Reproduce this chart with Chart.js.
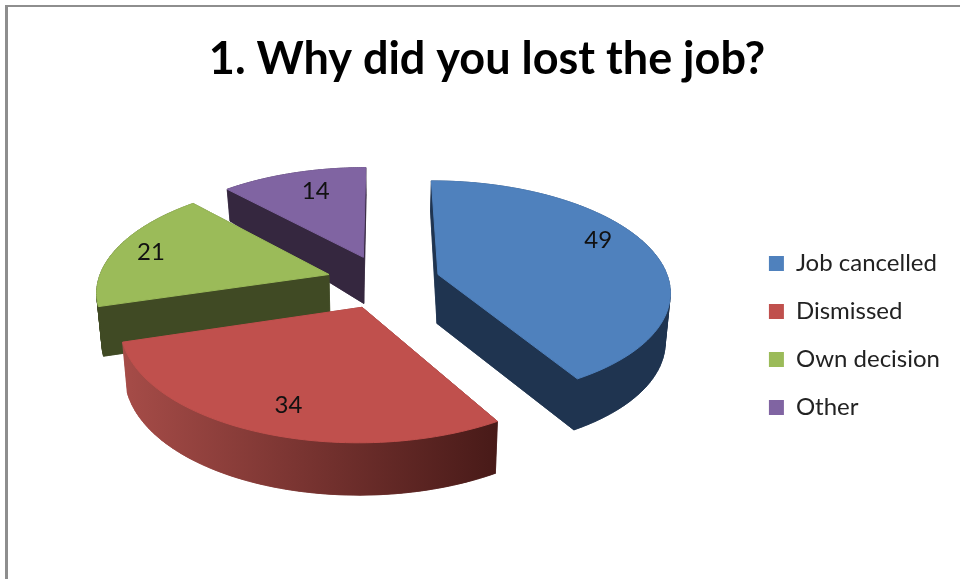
<!DOCTYPE html>
<html>
<head>
<meta charset="utf-8">
<title>1. Why did you lost the job?</title>
<script src="https://cdn.jsdelivr.net/npm/chart.js@4/dist/chart.umd.js"></script>
<style>
  html, body { margin: 0; padding: 0; background: #fff; }
  #wrap { position: relative; width: 960px; height: 579px; overflow: hidden; }
  #frame { position: absolute; left: 5px; top: 5px; right: -5px; bottom: -5px;
           border-left: 3px solid #8e8e8e; border-top: 2px solid #8e8e8e; }
  canvas { position: absolute; left: 0; top: 0; }
</style>
</head>
<body>
<div id="wrap">
  <canvas id="chart" width="960" height="579"></canvas>
  <div id="frame"></div>
</div>
<script>
const titleText = "1. Why did you lost the job?";
const categories = ["Job cancelled", "Dismissed", "Own decision", "Other"];
const answers = [49, 34, 21, 14];

const topColors = ["#4f81bd", "#c0504d", "#9bbb59", "#8064a2"];
// wall colours, left to right across each slice
const wallColors = [
  ["#1f3450", "#1f3450"],
  ["#a64c48", "#481a18"],
  ["#404a24", "#404a24"],
  ["#35273f", "#35273f"],
];
const paintOrder = [3, 2, 0, 1];
// where each value sits on its slice: fraction of radius, degrees off the middle
const labelRadius = [0.815, 0.8, 0.836, 0.75];
const labelTurn = [-9, -2, -0.4, 2.5];

const view = { x: 383.5, y: 281.5, tilt: 0.47, perspective: 0.14 };

// flat disc coordinates to screen, nearer points get larger
function project(u, v, r) {
  const s = 1 / (1 - (view.perspective * v) / r);
  return { x: view.x + u * s, y: view.y + view.tilt * v * s };
}

// bottom edge of a wall under a point of the top face
function drop(p) {
  const depth = Math.min(32 + 0.21 * (p.y - 190), 49 + 0.02 * (p.y - 275));
  return { x: p.x + (view.x - p.x) * 0.018, y: p.y + depth };
}

function sliceOutline(arc) {
  const r = arc.outerRadius;
  const mid = (arc.startAngle + arc.endAngle) / 2;
  const cu = Math.cos(mid) * arc.options.offset;
  const cv = Math.sin(mid) * arc.options.offset;
  const pts = [project(cu, cv, r)];
  const steps = 72;
  for (let i = 0; i <= steps; i++) {
    const a = arc.startAngle + ((arc.endAngle - arc.startAngle) * i) / steps;
    pts.push(project(cu + Math.cos(a) * r, cv + Math.sin(a) * r, r));
  }
  return pts;
}

function tracePolygon(ctx, pts) {
  ctx.beginPath();
  pts.forEach((p, i) => (i ? ctx.lineTo(p.x, p.y) : ctx.moveTo(p.x, p.y)));
  ctx.closePath();
}

const pie3d = {
  id: "pie3d",
  // the slices are painted here instead of by ArcElement
  beforeDatasetsDraw(chart) {
    const ctx = chart.ctx;
    const arcs = chart.getDatasetMeta(0).data;
    ctx.save();
    ctx.lineJoin = "round";
    paintOrder.forEach((idx) => {
      const top = sliceOutline(arcs[idx]);
      const bottom = top.map(drop);
      const xs = top.map((p) => p.x);
      const grad = ctx.createLinearGradient(Math.min(...xs), 0, Math.max(...xs), 0);
      grad.addColorStop(0, wallColors[idx][0]);
      grad.addColorStop(1, wallColors[idx][1]);
      ctx.fillStyle = grad;
      ctx.strokeStyle = grad;
      ctx.lineWidth = 0.6;
      tracePolygon(ctx, bottom);
      ctx.fill();
      ctx.stroke();
      top.forEach((p, i) => {
        const j = (i + 1) % top.length;
        tracePolygon(ctx, [p, top[j], bottom[j], bottom[i]]);
        ctx.fill();
        ctx.stroke();
      });
      // stroke hides the dark wall fringe along the top edge
      tracePolygon(ctx, top);
      ctx.fillStyle = topColors[idx];
      ctx.strokeStyle = topColors[idx];
      ctx.lineWidth = 1;
      ctx.fill();
      ctx.stroke();
    });

    ctx.fillStyle = "#111";
    ctx.font = "24px Lato";
    ctx.textAlign = "center";
    ctx.textBaseline = "middle";
    arcs.forEach((arc, idx) => {
      const r = arc.outerRadius;
      const mid = (arc.startAngle + arc.endAngle) / 2;
      const a = mid + (labelTurn[idx] * Math.PI) / 180;
      const u = Math.cos(mid) * arc.options.offset + Math.cos(a) * r * labelRadius[idx];
      const v = Math.sin(mid) * arc.options.offset + Math.sin(a) * r * labelRadius[idx];
      const p = project(u, v, r);
      ctx.fillText(String(answers[idx]), p.x, p.y);
    });
    ctx.restore();
    return false;
  },
};

new Chart(document.getElementById("chart").getContext("2d"), {
  type: "pie",
  data: {
    labels: categories,
    datasets: [
      {
        data: answers,
        backgroundColor: topColors,
        borderColor: topColors,
        borderWidth: 0,
        offset: 57,
      },
    ],
  },
  options: {
    responsive: false,
    animation: false,
    radius: 231,
    layout: { padding: { left: 24, right: 10, bottom: 28 } },
    plugins: {
      tooltip: { enabled: false },
      title: {
        display: true,
        text: titleText,
        color: "#000",
        font: { family: "Lato", size: 45, weight: "bold" },
        padding: { top: 32, bottom: 34 },
      },
      legend: {
        position: "right",
        fullSize: false,
        labels: {
          color: "#222",
          font: { family: "Lato", size: 24 },
          boxWidth: 15,
          boxHeight: 15,
          padding: 24,
        },
      },
    },
  },
  plugins: [pie3d],
});
</script>
</body>
</html>
